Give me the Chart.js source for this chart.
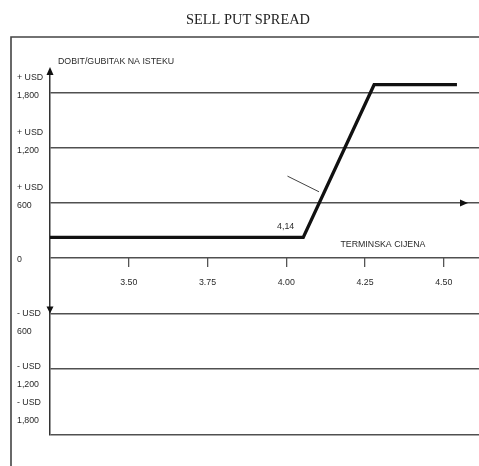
<!DOCTYPE html>
<html><head><meta charset="utf-8">
<script src="https://cdn.jsdelivr.net/npm/chart.js@4"></script>
<style>html,body{margin:0;padding:0;background:#fff}#wrap{width:479px;height:466px}</style>
</head><body><div id="wrap"><canvas id="c" width="479" height="466"></canvas></div>
<script>
const chartTitle = "SELL PUT SPREAD";
const yAxisTitle = "DOBIT/GUBITAK NA ISTEKU";
const xAxisTitle = "TERMINSKA CIJENA";
const strikeLabel = "4,14";
const futuresPrice = [3.25, 4.054, 4.279, 4.542];
const profitLoss = [226, 226, 1884, 1884];
const xTicks = [3.50, 3.75, 4.00, 4.25, 4.50];
const yGridValues = [1800, 1200, 600, 0, -600, -1200];
const yLabelValues = [1800, 1200, 600, 0, -600, -1200, -1800];
const yLabelLines = [["+ USD","1,800"],["+ USD","1,200"],["+ USD","600"],["0"],["- USD","600"],["- USD","1,200"],["- USD","1,800"]];
const xMin = 3.25, xMax = 4.612, yMin = -1920, yMax = 2000;
// annotation anchors (data coordinates)
const strikeLabelAt = [3.998, 341];
const xTitleAt = [4.307, 153];
const pointerX = [4.004, 4.104];
const pointerY = [891, 721];
const xArrowAt = [4.577, 600];
const yDownArrowAt = -600;

const FONT = '"Liberation Sans", Arial, sans-serif';
const yLabelOffsets = [-15, -15, -15, 1, 0, -2, -21];

const deco = {
  id: 'deco',
  beforeDraw(chart) {
    const ctx = chart.ctx;
    ctx.save();
    ctx.fillStyle = '#fff';
    ctx.fillRect(0, 0, chart.width, chart.height);
    ctx.strokeStyle = '#444';
    ctx.lineWidth = 1.6;
    ctx.beginPath();
    ctx.moveTo(11, chart.height);
    ctx.lineTo(11, 37);
    ctx.lineTo(chart.width, 37);
    ctx.stroke();
    ctx.restore();
  },
  afterDraw(chart) {
    const ctx = chart.ctx, xs = chart.scales.x, ys = chart.scales.y, ca = chart.chartArea;
    ctx.save();
    ctx.fillStyle = '#222';
    ctx.font = '14.4px "Liberation Serif", "Times New Roman", serif';
    ctx.textAlign = 'center';
    ctx.textBaseline = 'middle';
    ctx.fillText(chartTitle, 248, 20);
    ctx.fillStyle = '#2a2a2a';
    ctx.font = '8.8px ' + FONT;
    ctx.textAlign = 'left';
    ctx.fillText(yAxisTitle, 58, 62);
    yLabelValues.forEach((v, i) => {
      const py = ys.getPixelForValue(v) + yLabelOffsets[i];
      yLabelLines[i].forEach((t, j) => ctx.fillText(t, 17, py + j * 18));
    });
    ctx.textAlign = 'center';
    ctx.fillText(xAxisTitle, xs.getPixelForValue(xTitleAt[0]), ys.getPixelForValue(xTitleAt[1]));
    ctx.fillText(strikeLabel, xs.getPixelForValue(strikeLabelAt[0]), ys.getPixelForValue(strikeLabelAt[1]));
    ctx.strokeStyle = '#444';
    ctx.lineWidth = 1;
    ctx.beginPath();
    ctx.moveTo(xs.getPixelForValue(pointerX[0]), ys.getPixelForValue(pointerY[0]));
    ctx.lineTo(xs.getPixelForValue(pointerX[1]), ys.getPixelForValue(pointerY[1]));
    ctx.stroke();
    ctx.fillStyle = '#111';
    const ax = ca.left;
    ctx.strokeStyle = '#333';
    ctx.lineWidth = 1.5;
    ctx.beginPath(); ctx.moveTo(ax, ca.top - 4); ctx.lineTo(ax, ca.top + 1); ctx.stroke();
    ctx.beginPath();
    ctx.moveTo(ax, ca.top - 7); ctx.lineTo(ax - 3.5, ca.top + 1); ctx.lineTo(ax + 3.5, ca.top + 1); ctx.closePath(); ctx.fill();
    const dy = ys.getPixelForValue(yDownArrowAt);
    ctx.beginPath();
    ctx.moveTo(ax, dy); ctx.lineTo(ax - 3.5, dy - 7); ctx.lineTo(ax + 3.5, dy - 7); ctx.closePath(); ctx.fill();
    const rx = xs.getPixelForValue(xArrowAt[0]), ry = ys.getPixelForValue(xArrowAt[1]);
    ctx.beginPath();
    ctx.moveTo(rx, ry); ctx.lineTo(rx - 8, ry - 3.5); ctx.lineTo(rx - 8, ry + 3.5); ctx.closePath(); ctx.fill();
    ctx.restore();
  }
};

new Chart(document.getElementById('c'), {
  type: 'line',
  data: {
    datasets: [{
      data: futuresPrice.map((x, i) => ({x, y: profitLoss[i]})),
      borderColor: '#111',
      borderWidth: 3.3,
      pointRadius: 0,
      tension: 0,
      fill: false,
      clip: false
    }]
  },
  options: {
    responsive: false,
    devicePixelRatio: 1,
    animation: false,
    layout: {padding: {left: 50, right: 0, top: 74, bottom: 31}},
    plugins: {legend: {display: false}, tooltip: {enabled: false}, title: {display: false}},
    scales: {
      x: {
        type: 'linear', min: xMin, max: xMax,
        position: {y: 0},
        grid: {drawOnChartArea: false, drawTicks: true, tickLength: 9, color: '#555', lineWidth: 1.3},
        border: {display: false},
        ticks: {font: {family: FONT, size: 8.8}, color: '#2a2a2a', padding: 10, maxRotation: 0,
          callback: v => Number(v).toFixed(2)},
        afterBuildTicks: s => { s.ticks = xTicks.map(v => ({value: v})); }
      },
      y: {
        type: 'linear', min: yMin, max: yMax,
        grid: {color: '#505050', lineWidth: 1.4, drawTicks: false},
        border: {display: true, color: '#333', width: 1.5},
        ticks: {display: false},
        afterBuildTicks: s => { s.ticks = [yMin].concat(yGridValues).map(v => ({value: v})); }
      }
    }
  },
  plugins: [deco]
});
</script>
</body></html>
